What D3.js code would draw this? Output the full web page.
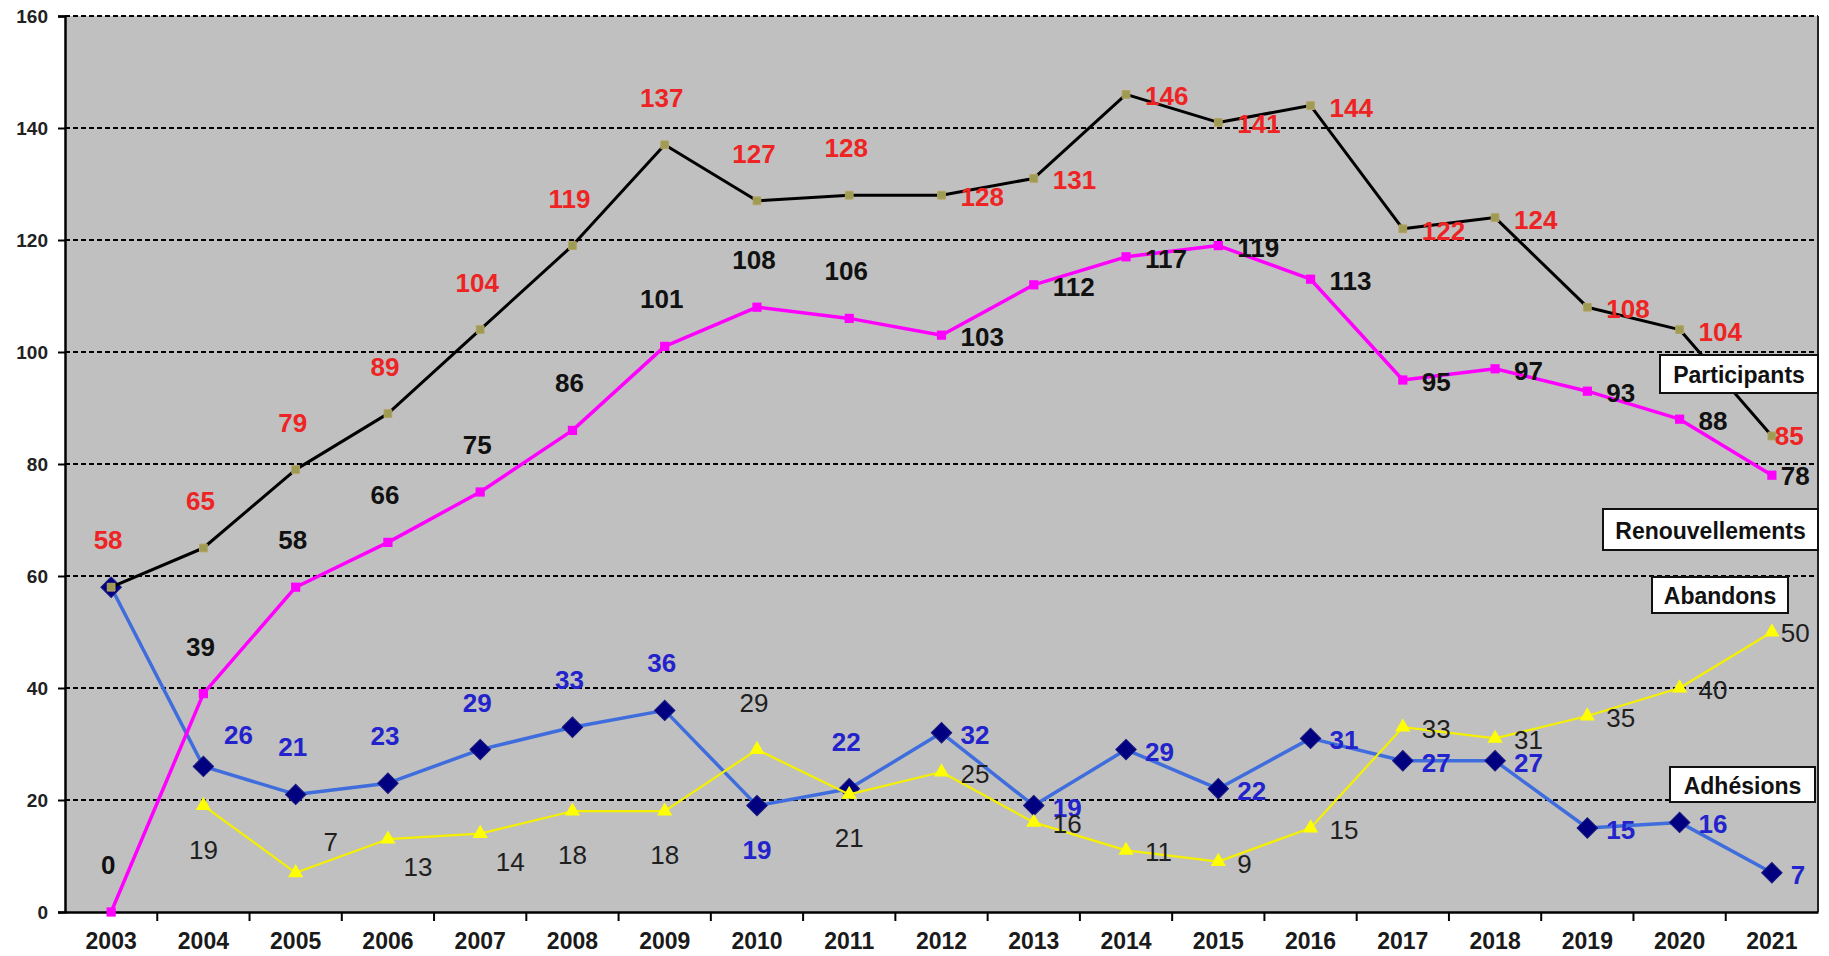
<!DOCTYPE html>
<html>
<head>
<meta charset="utf-8">
<script src="https://cdn.jsdelivr.net/npm/d3@7"></script>
<style>
  html, body { margin: 0; padding: 0; background: #ffffff; }
  svg text { font-family: "Liberation Sans", Arial, sans-serif; }
</style>
</head>
<body>
<div id="chart"></div>
<script>
const years = ["2003","2004","2005","2006","2007","2008","2009","2010","2011","2012",
               "2013","2014","2015","2016","2017","2018","2019","2020","2021"];
const yTicks = [0, 20, 40, 60, 80, 100, 120, 140, 160];

const participants    = [58, 65, 79, 89, 104, 119, 137, 127, 128, 128, 131, 146, 141, 144, 122, 124, 108, 104, 85];
const renouvellements = [0, 39, 58, 66, 75, 86, 101, 108, 106, 103, 112, 117, 119, 113, 95, 97, 93, 88, 78];
const abandons        = [null, 19, 7, 13, 14, 18, 18, 29, 21, 25, 16, 11, 9, 15, 33, 31, 35, 40, 50];
const adhesions       = [58, 26, 21, 23, 29, 33, 36, 19, 22, 32, 19, 29, 22, 31, 27, 27, 15, 16, 7];

// where each value label sits relative to its point
const placeParticipants = ["a","a","a","a","a","a","a","a","a","r","r","r","r","r","r","r","r","r","e"];
const placeRenouv       = ["a","a","a","a","a","a","a","a","a","r","r","r","r","r","r","r","r","r","e2"];
const placeAbandons     = [null,"b","ar","br","br","b","b","a","b","r","r","r","r","r","r","r","r","r","e2"];
const placeAdhesions    = [null,"ar","a","a","a","a","a","b","a","r","r","r","r","r","r","r","r","r","r"];

const labelOffsets = {
    a:  { dx: -3, dy: -47, anchor: "middle" },
    b:  { dx: 0,  dy: 44,  anchor: "middle" },
    r:  { dx: 19, dy: 2,   anchor: "start" },
    ar: { dx: 35, dy: -31, anchor: "middle" },
    br: { dx: 30, dy: 28,  anchor: "middle" },
    e:  { dx: 3,  dy: 0,   anchor: "start" },
    e2: { dx: 9,  dy: 1,   anchor: "start" }
};

const width = 1829, height = 956;
const plot = { left: 65, right: 1818, top: 16, bottom: 912 };

const svg = d3.select("#chart").append("svg")
    .attr("width", width)
    .attr("height", height);

const x = d3.scaleBand().domain(years).range([plot.left, plot.right]).padding(0);
const y = d3.scaleLinear().domain([0, 160]).range([plot.bottom, plot.top]);
const cx = d => x(d) + x.bandwidth() / 2;

// plot background
svg.append("rect")
    .attr("x", plot.left).attr("y", plot.top)
    .attr("width", plot.right - plot.left)
    .attr("height", plot.bottom - plot.top)
    .attr("fill", "#c0c0c0");

// dashed gridlines
svg.append("g").selectAll("line")
    .data(yTicks.filter(t => t > 0))
    .join("line")
    .attr("x1", plot.left).attr("x2", plot.right)
    .attr("y1", d => y(d)).attr("y2", d => y(d))
    .attr("stroke", "#000")
    .attr("stroke-width", 2)
    .attr("stroke-dasharray", "5,3");

// right border
svg.append("line")
    .attr("x1", plot.right).attr("x2", plot.right)
    .attr("y1", plot.top).attr("y2", plot.bottom)
    .attr("stroke", "#222").attr("stroke-width", 2);

// y axis
const yAxis = svg.append("g")
    .attr("transform", `translate(${plot.left},0)`)
    .call(d3.axisLeft(y).tickValues(yTicks).tickSize(7).tickPadding(10).tickFormat(d3.format("d")));
yAxis.select(".domain").attr("stroke", "#000").attr("stroke-width", 2.5);
yAxis.selectAll(".tick line").attr("stroke", "#000").attr("stroke-width", 2);
yAxis.selectAll(".tick text")
    .attr("fill", "#222")
    .style("font-size", "19px")
    .style("font-weight", "700");

// x axis: labels centred in bands, ticks on band boundaries
const xAxis = svg.append("g")
    .attr("transform", `translate(0,${plot.bottom})`)
    .call(d3.axisBottom(x).tickSize(0).tickPadding(21));
xAxis.select(".domain").attr("stroke", "#000").attr("stroke-width", 2.5);
xAxis.selectAll(".tick text")
    .attr("fill", "#1a1a1a")
    .style("font-size", "23px")
    .style("font-weight", "700");
xAxis.selectAll(".boundary")
    .data(years.slice(1))
    .join("line")
    .attr("class", "boundary")
    .attr("x1", d => x(d)).attr("x2", d => x(d))
    .attr("y1", 0).attr("y2", 9)
    .attr("stroke", "#000").attr("stroke-width", 2);

const line = d3.line()
    .defined(d => d.v !== null)
    .x(d => cx(d.year))
    .y(d => y(d.v));

const series = [
    { name: "adhesions", values: adhesions, place: placeAdhesions, stroke: "#3f6ddd", sw: 3.5,
      marker: "diamond", mfill: "#000080", msize: 210, label: "#2323cc", weight: 700 },
    { name: "abandons", values: abandons, place: placeAbandons, stroke: "#f4f000", sw: 2.2,
      marker: "triangle", mfill: "#ffff00", msize: 100, label: "#1f1f1f", weight: 400 },
    { name: "renouvellements", values: renouvellements, place: placeRenouv, stroke: "#ff00ff", sw: 3.5,
      marker: "square", mfill: "#ff00ff", msize: 85, label: "#111111", weight: 700 },
    { name: "participants", values: participants, place: placeParticipants, stroke: "#000000", sw: 3,
      marker: "square", mfill: "#9c9c55", msize: 60, label: "#ee2424", weight: 700 }
];

const symbolType = { diamond: d3.symbolSquare, triangle: d3.symbolTriangle, square: d3.symbolSquare };

series.forEach(s => {
    const pts = years.map((yr, i) => ({ year: yr, v: s.values[i], place: s.place[i] }));
    const g = svg.append("g").attr("class", s.name);
    g.append("path")
        .datum(pts)
        .attr("d", line)
        .attr("fill", "none")
        .attr("stroke", s.stroke)
        .attr("stroke-width", s.sw)
        .attr("stroke-linejoin", "round");
    g.selectAll("path.marker")
        .data(pts.filter(d => d.v !== null))
        .join("path")
        .attr("class", "marker")
        .attr("d", d3.symbol().type(symbolType[s.marker]).size(s.msize))
        .attr("transform", d => `translate(${cx(d.year)},${y(d.v)})` + (s.marker === "diamond" ? " rotate(45)" : ""))
        .attr("fill", s.mfill)
        .attr("stroke", s.marker === "diamond" ? "#1a1a80" : (s.name === "participants" ? "#b8a060" : "none"))
        .attr("stroke-width", 1);
    s.pts = pts;
});

// value labels on top
series.forEach(s => {
    svg.append("g").selectAll("text")
        .data(s.pts.filter(d => d.v !== null && d.place))
        .join("text")
        .attr("x", d => cx(d.year) + labelOffsets[d.place].dx)
        .attr("y", d => y(d.v) + labelOffsets[d.place].dy)
        .attr("text-anchor", d => labelOffsets[d.place].anchor)
        .attr("dominant-baseline", "central")
        .attr("fill", s.label)
        .style("font-size", "26px")
        .style("font-weight", s.weight)
        .text(d => d.v);
});

// legend boxes
const legendItems = [
    { text: "Participants",     x: 1660, y: 355, w: 158, h: 38 },
    { text: "Renouvellements",  x: 1603, y: 509, w: 215, h: 41 },
    { text: "Abandons",         x: 1652, y: 577, w: 136, h: 36 },
    { text: "Adhésions",        x: 1670, y: 767, w: 145, h: 35 }
];
const lg = svg.append("g").selectAll("g")
    .data(legendItems)
    .join("g")
    .attr("transform", d => `translate(${d.x},${d.y})`);
lg.append("rect")
    .attr("width", d => d.w).attr("height", d => d.h)
    .attr("fill", "#ffffff")
    .attr("stroke", "#111").attr("stroke-width", 2);
lg.append("text")
    .attr("x", d => d.w / 2).attr("y", d => d.h / 2 + 1)
    .attr("text-anchor", "middle")
    .attr("dominant-baseline", "central")
    .attr("fill", "#111")
    .style("font-size", "23px")
    .style("font-weight", "700")
    .text(d => d.text);
</script>
</body>
</html>
